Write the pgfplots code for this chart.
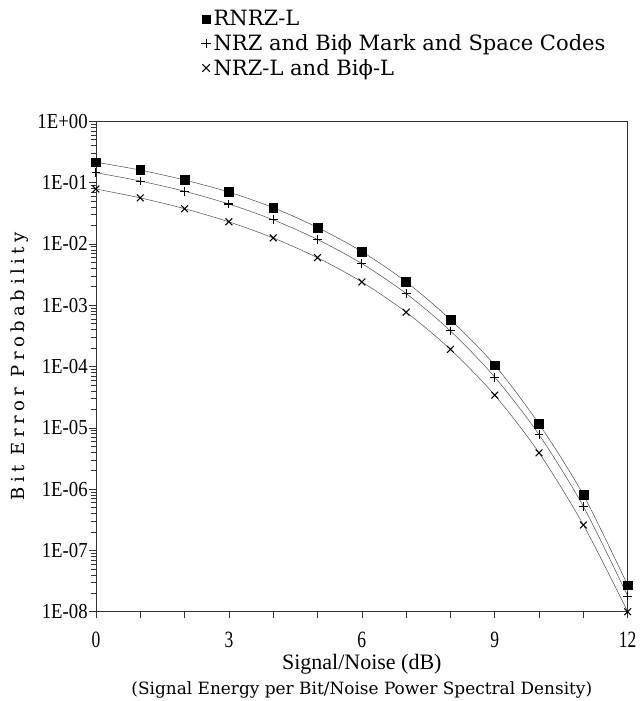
\documentclass[border=0pt]{standalone}
\usepackage{fontspec}
\usepackage{graphicx}
\usepackage{pgfplots}
\pgfplotsset{compat=1.18}
\newfontfamily\legfont{DejaVu Serif}
\newfontfamily\ylfont[LetterSpace=25]{DejaVu Serif}
\newfontfamily\tkfont{Liberation Serif}
\newcommand\tl[1]{\scalebox{0.88}[1]{\tkfont #1}}
\newcommand\xl[1]{\scalebox{0.75}[1]{\tkfont #1}}
\definecolor{curve}{HTML}{555555}
\definecolor{frame}{HTML}{333333}
\begin{document}
\begin{tikzpicture}
\begin{axis}[
  scale only axis, width=399pt, height=368pt,
  ymode=log, ymin=1e-8, ymax=1, xmin=0, xmax=12,
  xtick={0,...,12}, xticklabels={\xl{0},,,\xl{3},,,\xl{6},,,\xl{9},,,\xl{12}},
  ytick={1e-8,1e-7,1e-6,1e-5,1e-4,1e-3,1e-2,1e-1,1},
  yticklabels={\tl{1E-08},\tl{1E-07},\tl{1E-06},\tl{1E-05},\tl{1E-04},\tl{1E-03},\tl{1E-02},\tl{1E-01},\tl{1E+00}},
  minor ytick={2e-8,3e-8,4e-8,5e-8,6e-8,7e-8,8e-8,9e-8,
    2e-7,3e-7,4e-7,5e-7,6e-7,7e-7,8e-7,9e-7,
    2e-6,3e-6,4e-6,5e-6,6e-6,7e-6,8e-6,9e-6,
    2e-5,3e-5,4e-5,5e-5,6e-5,7e-5,8e-5,9e-5,
    2e-4,3e-4,4e-4,5e-4,6e-4,7e-4,8e-4,9e-4,
    2e-3,3e-3,4e-3,5e-3,6e-3,7e-3,8e-3,9e-3,
    2e-2,3e-2,4e-2,5e-2,6e-2,7e-2,8e-2,9e-2,
    0.2,0.3,0.4,0.5,0.6,0.7,0.8,0.9},
  xtick pos=left, ytick pos=left, tick align=outside,
  major tick length=5pt, minor tick length=4pt,
  tick style={frame, thin},
  axis line style={frame, thin},
  yticklabel style={font=\fontsize{16}{18}\selectfont, inner sep=1pt},
  xticklabel style={font=\fontsize{17.5}{19}\selectfont, anchor=base, yshift=-21.5pt, inner sep=0pt},
  legend style={draw=none, fill=none, at={(0.19,1)}, anchor=south west, yshift=29pt,
    font=\legfont\fontsize{15.8}{18}\selectfont, row sep=1pt, cells={anchor=west}},
  legend cell align=left,
]
\addplot[curve, thin, smooth, mark=square*, mark size=3.3pt, mark options={black, fill=black, solid}, forget plot] coordinates {
 (0,0.215) (1,0.160) (2,0.110) (3,0.0700) (4,0.0390) (5,0.0185) (6,0.0075)
 (7,0.0024) (8,5.8e-4) (9,1.05e-4) (10,1.15e-5) (11,8.0e-7) (12,2.7e-8)};
\addplot[curve, thin, smooth, mark=+, mark size=3.3pt, mark options={black, solid, thick}, forget plot] coordinates {
 (0,0.145) (1,0.106) (2,0.0722) (3,0.0447) (4,0.0247) (5,0.0118) (6,0.00477)
 (7,0.00155) (8,3.8e-4) (9,6.7e-5) (10,7.7e-6) (11,5.2e-7) (12,1.8e-8)};
\addplot[curve, thin, smooth, mark=x, mark size=3.6pt, mark options={black, solid, thick}, forget plot] coordinates {
 (0,0.0786) (1,0.0563) (2,0.0375) (3,0.0229) (4,0.0125) (5,0.00595) (6,0.00239)
 (7,7.7e-4) (8,1.9e-4) (9,3.4e-5) (10,3.9e-6) (11,2.6e-7) (12,1.0e-8)};
\addlegendimage{only marks, mark=square*, mark size=3pt, black}
\addlegendentry{RNRZ-L}
\addlegendimage{only marks, mark=+, mark size=3.6pt, black, thick}
\addlegendentry{NRZ and Biϕ Mark and Space Codes}
\addlegendimage{only marks, mark=x, mark size=4pt, black, thick}
\addlegendentry{NRZ-L and Biϕ-L}
\end{axis}
\node[anchor=base, inner sep=0pt, font=\tkfont\fontsize{16.5}{18}\selectfont] at ([yshift=-43pt]current axis.south) {Signal/Noise (dB)};
\node[anchor=base, inner sep=0pt, font=\legfont\fontsize{12.7}{15}\selectfont] at ([yshift=-62pt]current axis.south) {(Signal Energy per Bit/Noise Power Spectral Density)};
\node[rotate=90, font=\ylfont\fontsize{13.5}{16}\selectfont] at ([xshift=-57pt]current axis.west) {Bit Error Probability};
\path ([xshift=-72pt,yshift=-67pt]current axis.south west) ([xshift=9pt,yshift=91pt]current axis.north east);
\end{tikzpicture}
\end{document}
